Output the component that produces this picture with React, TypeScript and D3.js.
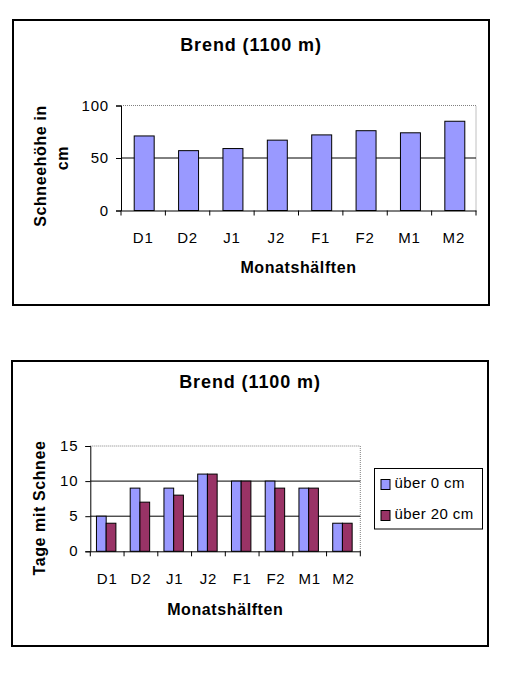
import React, { useEffect, useRef } from 'react';
import * as d3 from 'd3';

const halves = ['D1', 'D2', 'J1', 'J2', 'F1', 'F2', 'M1', 'M2'];
const snowDepth = [71, 57, 59, 67, 72, 76, 74, 85];
const daysOver0 = [5, 9, 9, 11, 10, 10, 9, 4];
const daysOver20 = [4, 7, 8, 11, 10, 9, 9, 4];
const seriesNames = ['über 0 cm', 'über 20 cm'];
const depthTicks = [0, 50, 100];
const dayTicks = [0, 5, 10, 15];

const FONT = '"Liberation Sans", Arial, sans-serif';
const BLUE = '#9999FF';
const RED = '#993366';

const App = () => {
  const svgRef = useRef<SVGSVGElement>(null);

  useEffect(() => {
    const svg = d3.select(svgRef.current);
    svg.selectAll('*').remove();

    const drawFrame = (g, o) => {
      g.append('rect')
        .attr('x', o.box[0]).attr('y', o.box[1])
        .attr('width', o.box[2]).attr('height', o.box[3])
        .attr('fill', 'white').attr('stroke', 'black').attr('stroke-width', 2);

      g.append('text')
        .attr('x', o.box[0] + o.box[2] / 2).attr('y', o.titleY)
        .attr('text-anchor', 'middle')
        .style('font', `bold 18px ${FONT}`).style('letter-spacing', '0.9px')
        .text('Brend (1100 m)');

      const { y, left, right, top, bottom } = o;

      // dotted top + right border of the plot area
      g.append('path')
        .attr('d', `M${left},${top}H${right}V${bottom}`)
        .attr('fill', 'none').attr('stroke', '#808080').attr('stroke-dasharray', '1,1');

      // gridlines
      g.selectAll('.grid')
        .data(o.ticks.slice(1, -1))
        .enter().append('line')
        .attr('x1', left).attr('x2', right)
        .attr('y1', d => y(d)).attr('y2', d => y(d))
        .attr('stroke', 'black');
    };

    const drawAxes = (g, o) => {
      const { x, y, left, right, bottom } = o;
      const axisY = g.append('g').attr('transform', `translate(${left},0)`)
        .call(d3.axisLeft(y).tickValues(o.ticks).tickSize(5).tickPadding(7));
      const axisX = g.append('g').attr('transform', `translate(0,${bottom})`)
        .call(d3.axisBottom(x).tickSize(0).tickPadding(22));
      [axisY, axisX].forEach(a => {
        a.attr('font-family', FONT).attr('font-size', 15);
        a.select('.domain').attr('stroke', 'black');
        a.selectAll('line').attr('stroke', 'black');
        a.selectAll('text')
          .style('font', `15px ${FONT}`).style('letter-spacing', '0.8px')
          .attr('fill', 'black');
      });
      axisY.selectAll('text').attr('dy', '0.3em');

      // category boundary ticks
      const bounds = halves.map(h => x(h)).concat([right]);
      g.selectAll('.xtick')
        .data(bounds)
        .enter().append('line')
        .attr('x1', d => d).attr('x2', d => d)
        .attr('y1', bottom).attr('y2', bottom + 5)
        .attr('stroke', 'black');

      g.append('text')
        .attr('x', (left + right) / 2).attr('y', o.xTitleY)
        .attr('text-anchor', 'middle')
        .style('font', `bold 16px ${FONT}`).style('letter-spacing', '0.6px')
        .text('Monatshälften');

      o.yTitle.forEach(t => {
        g.append('text')
          .attr('transform', `translate(${t.x},${t.cy}) rotate(-90)`)
          .attr('text-anchor', 'middle')
          .style('font', `bold 16px ${FONT}`).style('letter-spacing', '0.6px')
          .text(t.text);
      });
    };

    // chart 1: Schneehöhe
    const g1 = svg.append('g');
    const c1 = {
      box: [13, 20, 476, 285],
      titleY: 51,
      left: 121, right: 476, top: 105.5, bottom: 210.5,
      ticks: depthTicks,
      xTitleY: 273,
      yTitle: [
        { text: 'Schneehöhe in', x: 46, cy: 166 },
        { text: 'cm', x: 67.5, cy: 158 },
      ],
      x: null, y: null,
    };
    c1.x = d3.scaleBand().domain(halves).range([c1.left, c1.right]).padding(0);
    c1.y = d3.scaleLinear().domain([0, 100]).range([c1.bottom, c1.top]);
    drawFrame(g1, c1);

    const bw1 = c1.x.bandwidth() * 0.45;
    g1.selectAll('.bar')
      .data(snowDepth)
      .enter().append('rect')
      .attr('x', (d, i) => c1.x(halves[i]) + (c1.x.bandwidth() - bw1) / 2 + 1)
      .attr('y', d => c1.y(d))
      .attr('width', bw1)
      .attr('height', d => c1.y(0) - c1.y(d))
      .attr('fill', BLUE).attr('stroke', 'black');
    drawAxes(g1, c1);

    // chart 2: Tage mit Schnee
    const g2 = svg.append('g');
    const c2 = {
      box: [12, 361, 476, 285],
      titleY: 388,
      left: 90.3, right: 360.3, top: 446, bottom: 551.3,
      ticks: dayTicks,
      xTitleY: 614.5,
      yTitle: [{ text: 'Tage mit Schnee', x: 45, cy: 508 }],
      x: null, y: null,
    };
    c2.x = d3.scaleBand().domain(halves).range([c2.left, c2.right]).padding(0);
    c2.y = d3.scaleLinear().domain([0, 15]).range([c2.bottom, c2.top]);
    drawFrame(g2, c2);

    const pairW = c2.x.bandwidth() * 0.576;
    const xSub = d3.scaleBand().domain(seriesNames).range([0, pairW]);
    const rows = halves.flatMap((h, i) => [
      { h, s: seriesNames[0], v: daysOver0[i], c: BLUE },
      { h, s: seriesNames[1], v: daysOver20[i], c: RED },
    ]);
    g2.selectAll('.bar')
      .data(rows)
      .enter().append('rect')
      .attr('x', d => c2.x(d.h) + (c2.x.bandwidth() - pairW) / 2 - 1 + xSub(d.s))
      .attr('y', d => c2.y(d.v))
      .attr('width', xSub.bandwidth())
      .attr('height', d => c2.y(0) - c2.y(d.v))
      .attr('fill', d => d.c).attr('stroke', 'black');
    drawAxes(g2, c2);

    // legend
    const lg = g2.append('g');
    lg.append('rect')
      .attr('x', 374.5).attr('y', 468.5).attr('width', 108).attr('height', 60.5)
      .attr('fill', 'white').attr('stroke', 'black');
    seriesNames.forEach((s, i) => {
      lg.append('rect')
        .attr('x', 381).attr('y', 479.5 + i * 31).attr('width', 9).attr('height', 10)
        .attr('fill', i === 0 ? BLUE : RED).attr('stroke', 'black');
      lg.append('text')
        .attr('x', 394.5).attr('y', 487.5 + i * 31)
        .style('font', `15px ${FONT}`).style('letter-spacing', '0.4px')
        .text(s);
    });
  }, []);

  return (
    <svg ref={svgRef} width={510} height={700}
      style={{ position: 'absolute', left: 0, top: 0, background: 'white' }} />
  );
};

export default App;
